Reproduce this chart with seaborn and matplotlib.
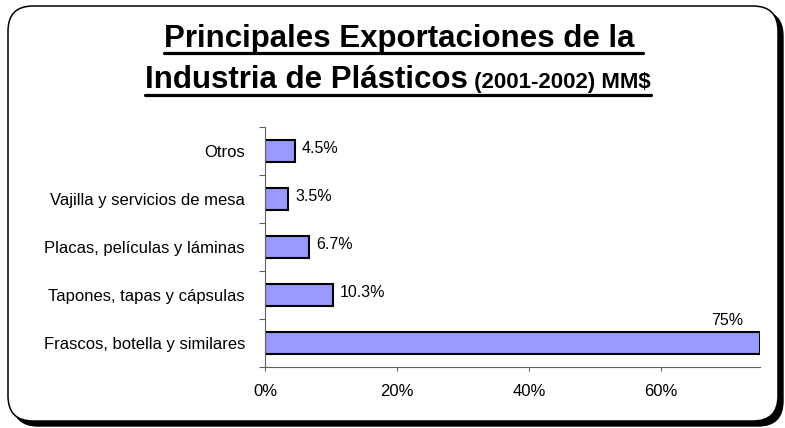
import matplotlib
matplotlib.use("Agg")
import matplotlib.pyplot as plt
from matplotlib.patches import FancyBboxPatch
from matplotlib.lines import Line2D
from matplotlib.transforms import IdentityTransform
import seaborn as sns
import pandas as pd

categories = [
    "Otros",
    "Vajilla y servicios de mesa",
    "Placas, películas y láminas",
    "Tapones, tapas y cápsulas",
    "Frascos, botella y similares",
]
shares = [4.5, 3.5, 6.7, 10.3, 75.0]
value_labels = ["4.5%", "3.5%", "6.7%", "10.3%", "75%"]
x_ticks = [0, 20, 40, 60]
x_tick_labels = ["0%", "20%", "40%", "60%"]

sns.set_theme(style="white")
plt.rcParams["font.family"] = ["Liberation Sans", "DejaVu Sans"]
plt.rcParams["text.color"] = "black"

W, H = 785, 428
fig = plt.figure(figsize=(W / 100, H / 100), dpi=100)
fig.patch.set_facecolor("white")

# rounded frame (pixel coordinates) with a drop shadow on the bottom/right
px = IdentityTransform()
shadow = FancyBboxPatch((13, 2), 770, 415,
                        boxstyle="round,pad=0,rounding_size=25",
                        transform=px, facecolor="black", edgecolor="black",
                        linewidth=1, zorder=0)
frame = FancyBboxPatch((8, 7), 770, 415,
                       boxstyle="round,pad=0,rounding_size=25",
                       transform=px, facecolor="white", edgecolor="black",
                       linewidth=1.1, zorder=1)
fig.patches.extend([shadow, frame])

ax = fig.add_axes([265 / W, 1 - 367 / H, 495 / W, 240 / H])
ax.set_zorder(3)
ax.patch.set_alpha(0)

df = pd.DataFrame({"categoria": categories, "participacion": shares})
sns.barplot(data=df, y="categoria", x="participacion", order=categories,
            orient="h", color="#9999FF", saturation=1, width=0.44,
            edgecolor="black", linewidth=1.5, ax=ax)

ax.set_xlim(0, 75)
ax.set_ylim(len(categories) - 0.5, -0.5)
ax.set_xticks(x_ticks)
ax.set_xticklabels(x_tick_labels, fontsize=12)
ax.set_yticks(range(len(categories)))
ax.set_yticklabels(categories, fontsize=12)
ax.tick_params(axis="y", length=0, pad=14.4, labelcolor="black")
ax.tick_params(axis="x", length=3, width=0.8, color="#606060", pad=9,
               direction="out", bottom=True, labelcolor="black")
ax.set_yticks([i - 0.5 for i in range(len(categories) + 1)], minor=True)
ax.tick_params(axis="y", which="minor", length=4, width=0.8, color="#606060",
               left=True)
ax.set_xlabel("")
ax.set_ylabel("")
for side in ("top", "right"):
    ax.spines[side].set_visible(False)
for side in ("left", "bottom"):
    ax.spines[side].set_color("#606060")
    ax.spines[side].set_linewidth(0.8)

for patch, label, val in zip(ax.patches, value_labels, shares):
    yc = patch.get_y() + patch.get_height() / 2
    if val >= 50:
        ax.text(val - 2.6, patch.get_y() - 0.15, label, ha="right",
                va="baseline", fontsize=11.5, color="black")
    else:
        ax.text(val + 1.1, yc - 0.05, label, ha="left", va="center",
                fontsize=11.5, color="black")

# two-line underlined title
title_kw = dict(fontweight="bold", color="black", transform=fig.transFigure,
                zorder=4, va="baseline")
t1 = fig.text(0, 1 - 47 / H, "Principales Exportaciones de la ", ha="left",
              fontsize=22.5, **title_kw)
t2a = fig.text(0, 1 - 88 / H, "Industria de Plásticos", ha="left",
               fontsize=22.5, **title_kw)
t2b = fig.text(0, 1 - 88 / H, " (2001-2002) MM$", ha="left",
               fontsize=16, **title_kw)

fig.canvas.draw()
r = fig.canvas.get_renderer()
w1 = t1.get_window_extent(r).width
t1.set_x((403.5 - w1 / 2) / W)
wa = t2a.get_window_extent(r).width
wb = t2b.get_window_extent(r).width
x0 = (398 - (wa + wb) / 2) / W
t2a.set_x(x0)
t2b.set_x(x0 + wa / W)
fig.canvas.draw()


def underline(extents, y_from_top):
    x_left = min(e.x0 for e in extents)
    x_right = max(e.x1 for e in extents)
    fig.add_artist(Line2D([x_left / W, x_right / W],
                          [1 - y_from_top / H, 1 - y_from_top / H],
                          transform=fig.transFigure, color="black",
                          linewidth=2.3, zorder=4))


underline([t1.get_window_extent(r)], 52.5)
underline([t2a.get_window_extent(r), t2b.get_window_extent(r)], 94.5)

fig.savefig("out.png", dpi=100, facecolor="white")
